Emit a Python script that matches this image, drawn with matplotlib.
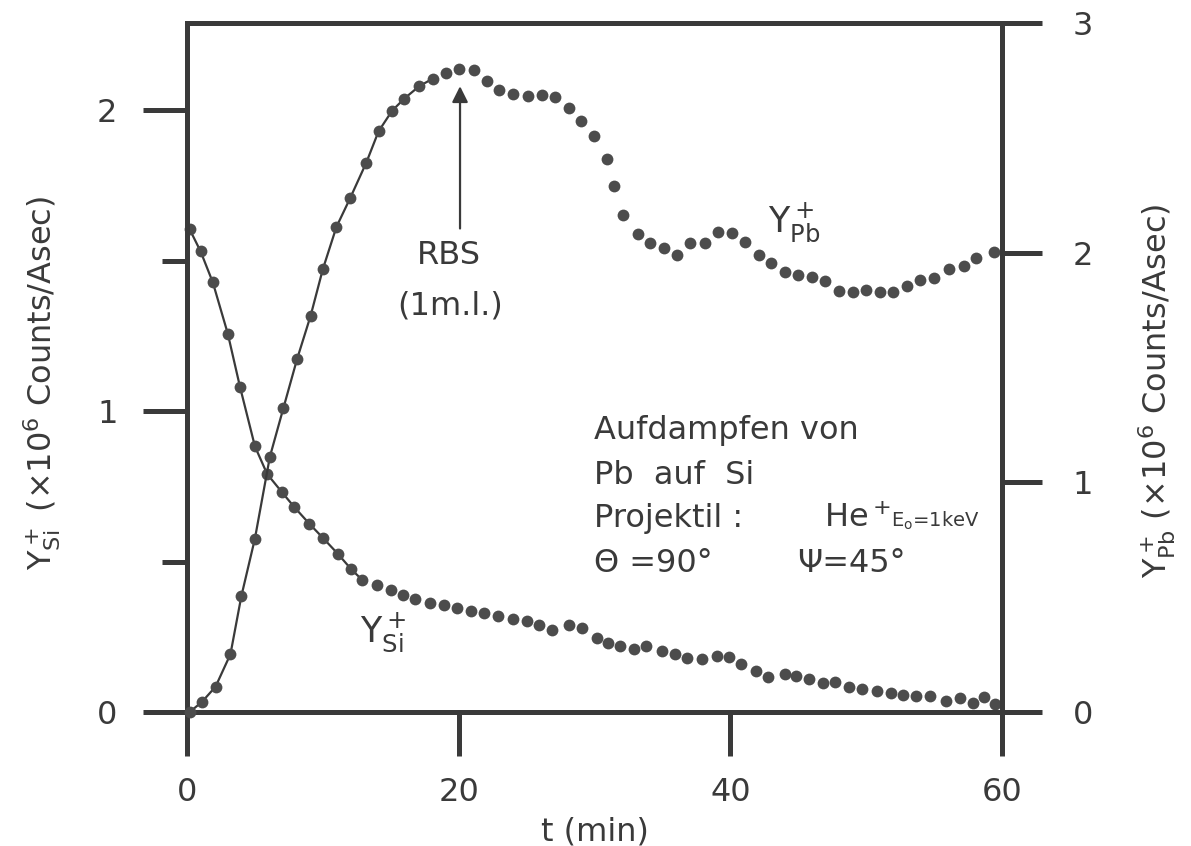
import matplotlib.pyplot as plt

# time axis (min) and Si+ yield (x10^6 counts/Asec, left scale)
si_t = [0.2, 1.0, 1.9, 3.0, 3.9, 5.0, 5.9, 7.0, 7.9, 9.0,
        10.0, 11.1, 12.1, 12.9, 14.0, 15.0, 15.9, 16.8, 17.9, 18.9,
        19.9, 20.9, 21.9, 22.9, 24.0, 25.0, 25.9, 26.9, 28.1, 29.1,
        30.2, 31.0, 31.9, 32.9, 33.8, 35.0, 35.9, 36.8, 37.9, 39.0,
        39.9, 40.8, 41.9, 42.8, 44.0, 44.8, 45.8, 46.8, 47.7, 48.7,
        49.7, 50.8, 51.8, 52.7, 53.7, 54.7, 55.9, 56.9, 57.9, 58.7, 59.5]
si_y = [1.604, 1.531, 1.428, 1.258, 1.081, 0.883, 0.791, 0.730, 0.681, 0.626,
        0.579, 0.526, 0.474, 0.439, 0.422, 0.405, 0.390, 0.374, 0.363, 0.357,
        0.346, 0.336, 0.330, 0.319, 0.309, 0.301, 0.288, 0.271, 0.288, 0.278,
        0.245, 0.228, 0.220, 0.209, 0.220, 0.204, 0.193, 0.178, 0.177, 0.186,
        0.183, 0.159, 0.137, 0.117, 0.126, 0.121, 0.110, 0.096, 0.099, 0.083,
        0.078, 0.070, 0.062, 0.056, 0.054, 0.052, 0.038, 0.047, 0.029, 0.050, 0.028]

# Pb+ yield (x10^6 counts/Asec, right scale)
pb_t = [0.2, 1.1, 2.1, 3.2, 4.0, 5.0, 6.1, 7.1, 8.1, 9.1,
        10.0, 11.0, 12.0, 13.2, 14.1, 15.1, 16.0, 17.1, 18.1, 19.1,
        20.0, 21.1, 22.1, 23.0, 24.0, 25.1, 26.1, 27.1, 28.1, 29.0,
        30.0, 30.9, 31.4, 32.1, 33.2, 34.1, 35.1, 36.1, 37.0, 38.1,
        39.1, 40.1, 41.1, 42.1, 43.0, 44.0, 45.0, 46.0, 47.0, 48.0,
        49.0, 50.0, 51.0, 52.0, 53.0, 54.0, 55.0, 56.1, 57.2, 58.1, 59.4]
pb_y = [0.0, 0.044, 0.110, 0.252, 0.504, 0.755, 1.111, 1.324, 1.536, 1.725,
        1.928, 2.112, 2.236, 2.392, 2.528, 2.618, 2.671, 2.725, 2.758, 2.784,
        2.799, 2.794, 2.746, 2.708, 2.690, 2.683, 2.685, 2.677, 2.629, 2.573,
        2.509, 2.409, 2.290, 2.163, 2.082, 2.040, 2.021, 1.990, 2.040, 2.040,
        2.089, 2.084, 2.045, 1.990, 1.955, 1.916, 1.902, 1.894, 1.877, 1.833,
        1.827, 1.838, 1.828, 1.828, 1.856, 1.879, 1.890, 1.930, 1.942, 1.976, 2.004]

# number of leading points joined by a drawn curve
si_fit = 14
pb_fit = 19

x_ticks = [0, 20, 40, 60]
si_ticks = [0, 1, 2]
si_minor = [0.5, 1.5]
pb_ticks = [0, 1, 2, 3]

rbs_t = 20.1  # RBS monolayer mark

ink = '#3a3a3a'
dot = '#4c4c4c'

plt.rcParams['font.family'] = 'DejaVu Sans'
plt.rcParams['mathtext.default'] = 'regular'
plt.rcParams['text.color'] = ink

fig = plt.figure(figsize=(11.91, 8.46), dpi=100)
ax = fig.add_axes([187 / 1191, 134 / 846, 815 / 1191, 689 / 846])
ax2 = ax.twinx()

ax.plot(si_t[:si_fit], si_y[:si_fit], color=ink, lw=1.6)
ax.plot(si_t, si_y, 'o', ms=8.5, color=dot, mec='none', clip_on=False)
ax2.plot(pb_t[:pb_fit], pb_y[:pb_fit], color=ink, lw=1.6)
ax2.plot(pb_t, pb_y, 'o', ms=8.5, color=dot, mec='none', clip_on=False)

ax.set_xlim(0, 60)
ax.set_ylim(0, 2.29)
ax2.set_ylim(0, 3)

for side in ['left', 'bottom', 'top']:
    ax.spines[side].set_linewidth(3.6)
    ax.spines[side].set_color(ink)
ax.spines['right'].set_visible(False)
for side in ['left', 'bottom', 'top']:
    ax2.spines[side].set_visible(False)
ax2.spines['right'].set_linewidth(3.6)
ax2.spines['right'].set_color(ink)

ax.set_xticks(x_ticks)
ax.set_yticks(si_ticks)
ax.set_yticks(si_minor, minor=True)
ax.tick_params(axis='x', direction='out', length=32, width=3.6, pad=15,
               labelsize=23, color=ink, labelcolor=ink)
ax.tick_params(axis='y', which='major', direction='out', length=32, width=3.6,
               pad=18, labelsize=23, color=ink, labelcolor=ink)
ax.tick_params(axis='y', which='minor', direction='out', length=18, width=3.6,
               color=ink)
ax2.set_yticks(pb_ticks)
ax2.tick_params(axis='y', direction='out', length=29, width=3.6, pad=22,
                labelsize=23, color=ink, labelcolor=ink)

ax.set_xlabel('t (min)', fontsize=23, labelpad=6, color=ink)
fig.text(42 / 1191, 1 - 383 / 846, r'$Y^+_{Si}$ (×10$^6$ Counts/Asec)',
         rotation=90, ha='center', va='center', fontsize=23)
fig.text(1157 / 1191, 1 - 391 / 846, r'$Y^+_{Pb}$ (×10$^6$ Counts/Asec)',
         rotation=90, ha='center', va='center', fontsize=23)

# curve labels
ax.text(42.8, 1.597, r'$Y^+_{Pb}$', fontsize=25, ha='left', va='baseline')
ax.text(12.7, 0.233, r'$Y^+_{Si}$', fontsize=25, ha='left', va='baseline')

# RBS marker
ax.annotate('', xy=(rbs_t, 2.08), xytext=(rbs_t, 1.607),
            arrowprops=dict(arrowstyle='-|>', color=ink, lw=1.6,
                            mutation_scale=24, shrinkA=0, shrinkB=0))
ax.text(19.3, 1.517, 'RBS', fontsize=23, ha='center', va='center')
ax.text(19.4, 1.351, '(1m.l.)', fontsize=23, ha='center', va='center')

# experiment description
ax.text(30.0, 0.908, 'Aufdampfen von', fontsize=23, va='baseline')
ax.text(30.0, 0.759, 'Pb  auf  Si', fontsize=23, va='baseline')
ax.text(30.0, 0.616, 'Projektil :', fontsize=23, va='baseline')
ax.text(46.9, 0.616, r'He$^+$', fontsize=23, va='baseline')
ax.text(51.8, 0.616, r'E$_o$=1keV', fontsize=14, va='baseline')
ax.text(30.0, 0.466, 'Θ =90°', fontsize=23, va='baseline')
ax.text(44.9, 0.466, 'Ψ=45°', fontsize=23, va='baseline')

fig.savefig('out.png', dpi=100, facecolor='white')
